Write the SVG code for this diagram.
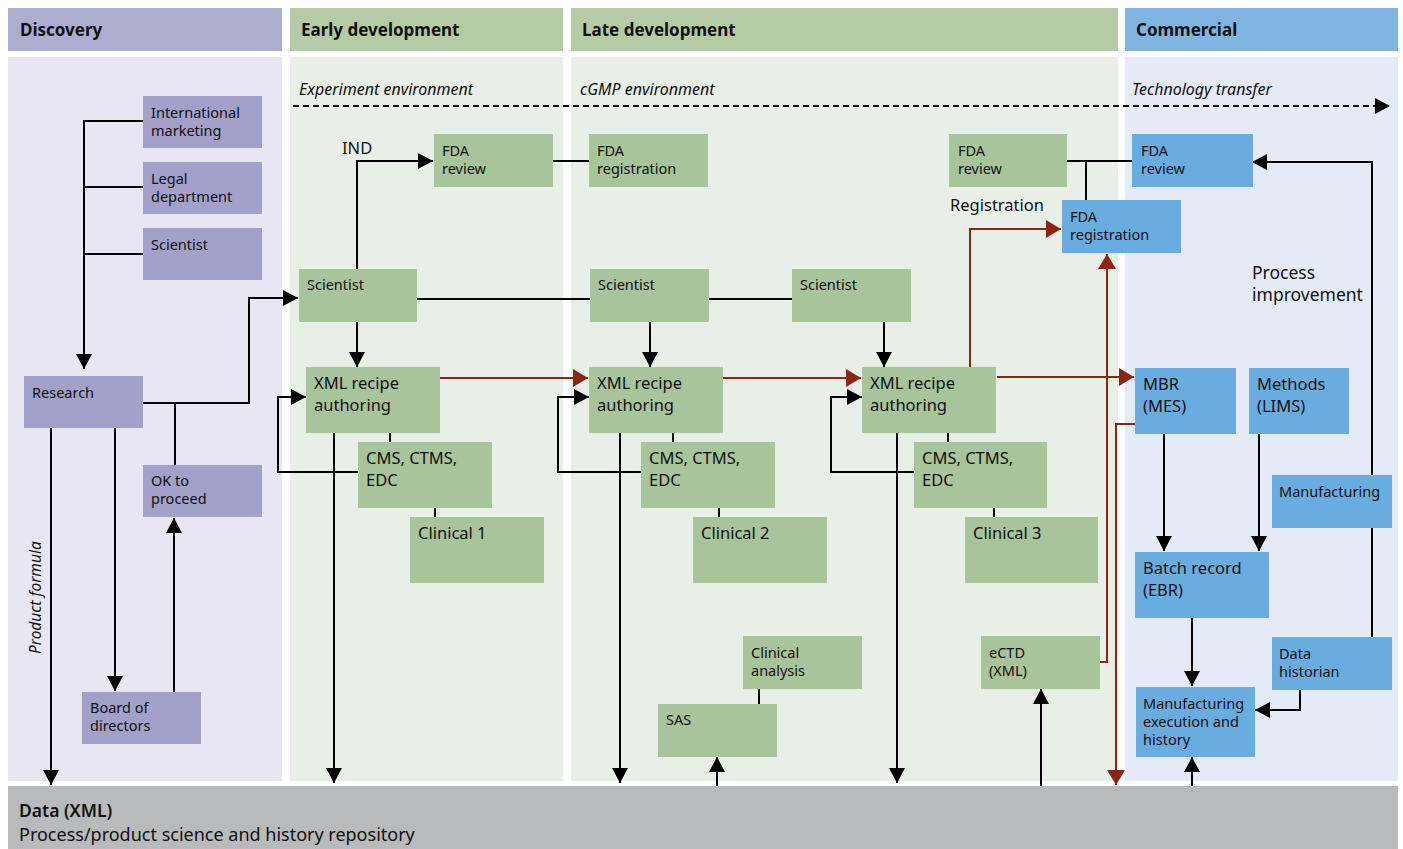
<svg xmlns="http://www.w3.org/2000/svg" width="1403" height="849" viewBox="0 0 1403 849">
<defs>
<style>
text{font-family:"Noto Sans","Open Sans","Liberation Sans",sans-serif;fill:#111;}
.hd{font-size:17px;font-weight:bold;}
.s{font-size:14.5px;}
.m{font-size:16.5px;}
.it{font-size:16px;font-style:italic;}
.dn{fill:#a3a0c9;}
.gn{fill:#a8c49a;}
.bn{fill:#69acdf;}
.k{fill:none;stroke:#000;stroke-width:2;}
.r{fill:none;stroke:#8e2512;stroke-width:2;}
.ka{marker-end:url(#ak);}
.ra{marker-end:url(#ar);}
</style>
<marker id="ak" markerUnits="userSpaceOnUse" markerWidth="16" markerHeight="16" refX="15" refY="8" orient="auto"><path d="M0,0 L15,8 L0,16 z" fill="#000"/></marker>
<marker id="ar" markerUnits="userSpaceOnUse" markerWidth="16" markerHeight="18" refX="15" refY="9" orient="auto"><path d="M0,0 L15,9 L0,18 z" fill="#8e2512"/></marker>
</defs>
<rect width="1403" height="849" fill="#fff"/>
<g id="lanes">
<rect x="8" y="8" width="274" height="43" fill="#adadd0"/>
<rect x="290" y="8" width="273" height="43" fill="#b4cba5"/>
<rect x="571" y="8" width="547" height="43" fill="#b4cba5"/>
<rect x="1125" y="8" width="273" height="43" fill="#80b5e2"/>
<rect x="8" y="57" width="274" height="724" fill="#e8e6f2"/>
<rect x="290" y="57" width="273" height="724" fill="#e7efe6"/>
<rect x="571" y="57" width="547" height="724" fill="#e7efe6"/>
<rect x="1125" y="57" width="273" height="724" fill="#e4ebf7"/>
<text class="hd" x="20" y="36">Discovery</text>
<text class="hd" x="301" y="36">Early development</text>
<text class="hd" x="582" y="36">Late development</text>
<text class="hd" x="1136" y="36">Commercial</text>
<text class="it" x="299" y="95">Experiment environment</text>
<text class="it" x="580" y="95">cGMP environment</text>
<text class="it" x="1132" y="95">Technology transfer</text>
<text class="it" style="font-size:15.5px" transform="translate(41,654) rotate(-90)">Product formula</text>
<text class="m" x="342" y="154">IND</text>
<text class="m" x="950" y="211">Registration</text>
<text class="m" style="font-size:17.5px" x="1252" y="279">Process</text>
<text class="m" style="font-size:17.5px" x="1252" y="301">improvement</text>
</g>
<g id="data-bar">
<rect x="8" y="786" width="1390" height="63" fill="#b9babc"/>
<text x="19" y="817" style="font-size:17.5px;font-weight:600">Data (XML)</text>
<text x="19" y="841" style="font-size:18px">Process/product science and history repository</text>
</g>
<g id="connectors">
<path class="k" d="M293,106 H1390" stroke-dasharray="6,4" style="marker-end:url(#ak)"/>
<path class="k ka" d="M143,121 H84 V369"/>
<path class="k" d="M84,187 H143 M84,254 H143"/>
<path class="k ka" d="M143,403 H249 V298 H298"/>
<path class="k" d="M175,465 V403"/>
<path class="k ka" d="M174,692 V518"/>
<path class="k ka" d="M115,428 V691"/>
<path class="k ka" d="M51,428 V785"/>
<path class="k ka" d="M357,269 V161 H433"/>
<path class="k" d="M553,161 H589"/>
<path class="k" d="M417,299 H590 M709,299 H792"/>
<path class="k ka" d="M357,322 V367"/>
<path class="k ka" d="M650,322 V367"/>
<path class="k ka" d="M884,322 V367"/>
<path class="k ka" d="M358,472 H278 V397 H306"/>
<path class="k ka" d="M641,472 H558 V397 H589"/>
<path class="k ka" d="M914,472 H831 V397 H862"/>
<path class="k ka" d="M334,433 V783"/>
<path class="k ka" d="M620,433 V783"/>
<path class="k ka" d="M897,433 V783"/>
<path class="k" d="M390,433 V442 M673,433 V442 M948,433 V442 M435,508 V517 M719,508 V517 M994,508 V517 M759,689 V704"/>
<path class="k ka" d="M717,786 V757"/>
<path class="k ka" d="M1041,786 V689"/>
<path class="k" d="M1067,161 H1132 M1086,161 V200"/>
<path class="k ka" d="M1372,637 V162 H1252"/>
<path class="k ka" d="M1164,434 V551"/>
<path class="k ka" d="M1259,434 V551"/>
<path class="k ka" d="M1192,617 V686"/>
<path class="k ka" d="M1300,689 V710 H1255"/>
<path class="k ka" d="M1192,786 V757"/>
<path class="r ra" d="M440,378 H588"/>
<path class="r ra" d="M723,378 H861"/>
<path class="r ra" d="M997,377 H1134"/>
<path class="r ra" d="M970,367 V229 H1061"/>
<path class="r ra" d="M1099,662 H1107 V254"/>
<path class="r ra" d="M1135,424 H1116 V785"/>
</g>
<g id="n-intl"><rect class="dn" x="143" y="96" width="119" height="52"/><text class="s" x="151" y="118">International</text><text class="s" x="151" y="136">marketing</text></g>
<g id="n-legal"><rect class="dn" x="143" y="162" width="119" height="52"/><text class="s" x="151" y="184">Legal</text><text class="s" x="151" y="202">department</text></g>
<g id="n-sci0"><rect class="dn" x="143" y="228" width="119" height="52"/><text class="s" x="151" y="250">Scientist</text></g>
<g id="n-research"><rect class="dn" x="24" y="376" width="119" height="52"/><text class="s" x="32" y="398">Research</text></g>
<g id="n-ok"><rect class="dn" x="143" y="465" width="119" height="52"/><text class="s" x="151" y="486">OK to</text><text class="s" x="151" y="504">proceed</text></g>
<g id="n-board"><rect class="dn" x="82" y="692" width="119" height="52"/><text class="s" x="90" y="713">Board of</text><text class="s" x="90" y="731">directors</text></g>
<g id="n-sci1"><rect class="gn" x="299" y="269" width="118" height="53"/><text class="s" x="307" y="290">Scientist</text></g>
<g id="n-fdarev1"><rect class="gn" x="434" y="134" width="119" height="53"/><text class="s" x="442" y="156">FDA</text><text class="s" x="442" y="174">review</text></g>
<g id="n-fdareg1"><rect class="gn" x="589" y="134" width="119" height="53"/><text class="s" x="597" y="156">FDA</text><text class="s" x="597" y="174">registration</text></g>
<g id="n-sci2"><rect class="gn" x="590" y="269" width="119" height="53"/><text class="s" x="598" y="290">Scientist</text></g>
<g id="n-sci3"><rect class="gn" x="792" y="269" width="119" height="53"/><text class="s" x="800" y="290">Scientist</text></g>
<g id="n-xml1"><rect class="gn" x="306" y="367" width="134" height="66"/><text class="m" x="314" y="389">XML recipe</text><text class="m" x="314" y="411">authoring</text></g>
<g id="n-xml2"><rect class="gn" x="589" y="367" width="134" height="66"/><text class="m" x="597" y="389">XML recipe</text><text class="m" x="597" y="411">authoring</text></g>
<g id="n-xml3"><rect class="gn" x="862" y="367" width="134" height="66"/><text class="m" x="870" y="389">XML recipe</text><text class="m" x="870" y="411">authoring</text></g>
<g id="n-cms1"><rect class="gn" x="358" y="442" width="134" height="66"/><text class="m" x="366" y="464">CMS, CTMS,</text><text class="m" x="366" y="486">EDC</text></g>
<g id="n-cms2"><rect class="gn" x="641" y="442" width="134" height="66"/><text class="m" x="649" y="464">CMS, CTMS,</text><text class="m" x="649" y="486">EDC</text></g>
<g id="n-cms3"><rect class="gn" x="914" y="442" width="133" height="66"/><text class="m" x="922" y="464">CMS, CTMS,</text><text class="m" x="922" y="486">EDC</text></g>
<g id="n-clin1"><rect class="gn" x="410" y="517" width="134" height="66"/><text class="m" x="418" y="539">Clinical 1</text></g>
<g id="n-clin2"><rect class="gn" x="693" y="517" width="134" height="66"/><text class="m" x="701" y="539">Clinical 2</text></g>
<g id="n-clin3"><rect class="gn" x="965" y="517" width="133" height="66"/><text class="m" x="973" y="539">Clinical 3</text></g>
<g id="n-clinan"><rect class="gn" x="743" y="636" width="119" height="53"/><text class="s" x="751" y="658">Clinical</text><text class="s" x="751" y="676">analysis</text></g>
<g id="n-sas"><rect class="gn" x="658" y="704" width="119" height="53"/><text class="s" x="666" y="725">SAS</text></g>
<g id="n-ectd"><rect class="gn" x="981" y="636" width="119" height="53"/><text class="s" x="989" y="658">eCTD</text><text class="s" x="989" y="676">(XML)</text></g>
<g id="n-fdarev2"><rect class="gn" x="949" y="134" width="118" height="53"/><text class="s" x="958" y="156">FDA</text><text class="s" x="958" y="174">review</text></g>
<g id="n-fdarev3"><rect class="bn" x="1132" y="134" width="121" height="53"/><text class="s" x="1141" y="156">FDA</text><text class="s" x="1141" y="174">review</text></g>
<g id="n-fdareg3"><rect class="bn" x="1062" y="200" width="119" height="53"/><text class="s" x="1070" y="222">FDA</text><text class="s" x="1070" y="240">registration</text></g>
<g id="n-mbr"><rect class="bn" x="1135" y="368" width="101" height="66"/><text class="m" x="1143" y="390">MBR</text><text class="m" x="1143" y="412">(MES)</text></g>
<g id="n-methods"><rect class="bn" x="1249" y="368" width="100" height="66"/><text class="m" x="1257" y="390">Methods</text><text class="m" x="1257" y="412">(LIMS)</text></g>
<g id="n-manuf"><rect class="bn" x="1272" y="475" width="120" height="53"/><text class="s" x="1279" y="497">Manufacturing</text></g>
<g id="n-batch"><rect class="bn" x="1135" y="552" width="134" height="66"/><text class="m" x="1143" y="574">Batch record</text><text class="m" x="1143" y="596">(EBR)</text></g>
<g id="n-meh"><rect class="bn" x="1136" y="687" width="119" height="70"/><text class="s" x="1143" y="709">Manufacturing</text><text class="s" x="1143" y="727">execution and</text><text class="s" x="1143" y="745">history</text></g>
<g id="n-hist"><rect class="bn" x="1272" y="637" width="120" height="53"/><text class="s" x="1279" y="659">Data</text><text class="s" x="1279" y="677">historian</text></g>
</svg>
